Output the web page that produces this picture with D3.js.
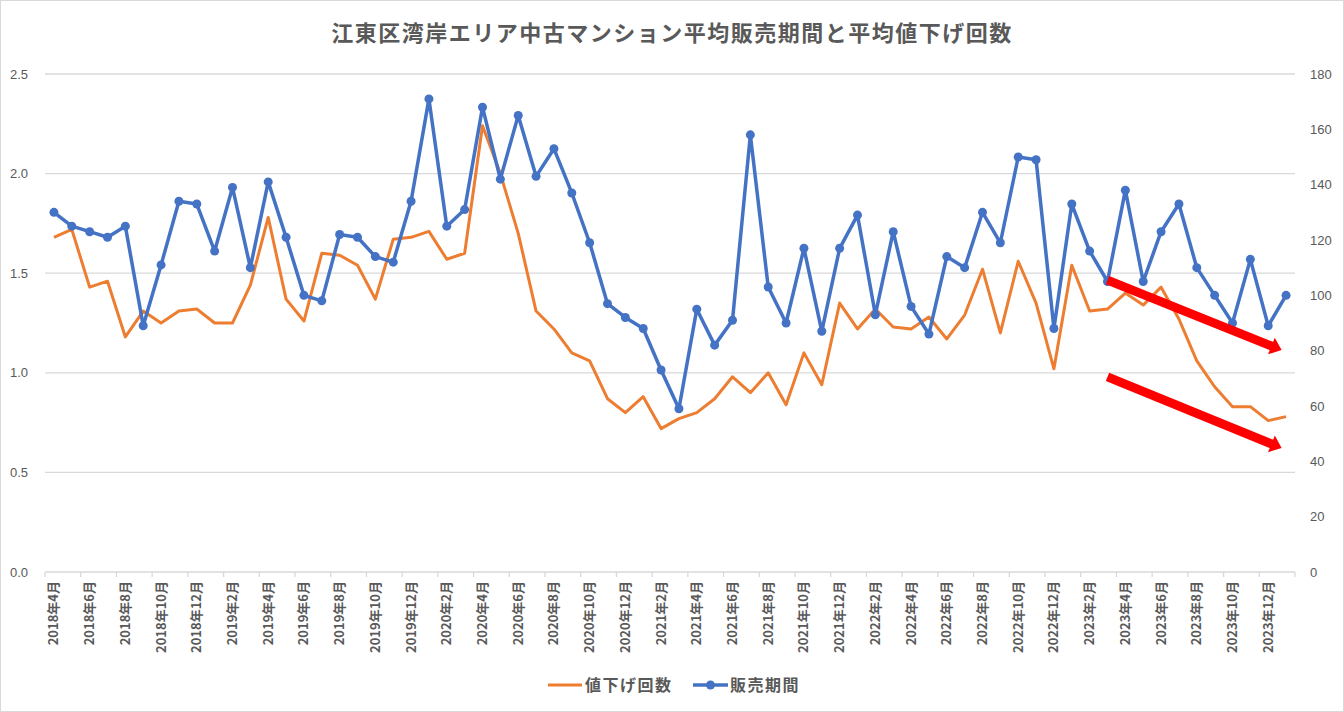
<!DOCTYPE html>
<html>
<head>
<meta charset="utf-8">
<script src="https://cdn.jsdelivr.net/npm/d3@7"></script>
<style>
  body { margin: 0; background: #fff; }
  svg { display: block; font-family: "Noto Sans CJK JP", "Noto Sans", sans-serif; }
</style>
</head>
<body>
<svg id="chart"></svg>
<script>
var width = 1344;
var height = 712;

// 2018年4月 〜 2024年1月 (月次)
var months = [
  "2018年4月", "2018年5月", "2018年6月", "2018年7月", "2018年8月", "2018年9月",
  "2018年10月", "2018年11月", "2018年12月",
  "2019年1月", "2019年2月", "2019年3月", "2019年4月", "2019年5月", "2019年6月",
  "2019年7月", "2019年8月", "2019年9月", "2019年10月", "2019年11月", "2019年12月",
  "2020年1月", "2020年2月", "2020年3月", "2020年4月", "2020年5月", "2020年6月",
  "2020年7月", "2020年8月", "2020年9月", "2020年10月", "2020年11月", "2020年12月",
  "2021年1月", "2021年2月", "2021年3月", "2021年4月", "2021年5月", "2021年6月",
  "2021年7月", "2021年8月", "2021年9月", "2021年10月", "2021年11月", "2021年12月",
  "2022年1月", "2022年2月", "2022年3月", "2022年4月", "2022年5月", "2022年6月",
  "2022年7月", "2022年8月", "2022年9月", "2022年10月", "2022年11月", "2022年12月",
  "2023年1月", "2023年2月", "2023年3月", "2023年4月", "2023年5月", "2023年6月",
  "2023年7月", "2023年8月", "2023年9月", "2023年10月", "2023年11月", "2023年12月",
  "2024年1月"
];

// 値下げ回数 (左軸)
var priceCuts = [
  1.68, 1.72, 1.43, 1.46, 1.18, 1.31, 1.25, 1.31, 1.32, 1.25,
  1.25, 1.44, 1.78, 1.37, 1.26, 1.60, 1.59, 1.54, 1.37, 1.67,
  1.68, 1.71, 1.57, 1.60, 2.24, 2.00, 1.70, 1.31, 1.22, 1.10,
  1.06, 0.87, 0.80, 0.88, 0.72, 0.77, 0.80, 0.87, 0.98, 0.90,
  1.00, 0.84, 1.10, 0.94, 1.35, 1.22, 1.32, 1.23, 1.22, 1.28,
  1.17, 1.29, 1.52, 1.20, 1.56, 1.35, 1.02, 1.54, 1.31, 1.32,
  1.40, 1.34, 1.43, 1.27, 1.06, 0.93, 0.83, 0.83, 0.76, 0.78
];

// 販売期間 (右軸, 日)
var salesDays = [
  130, 125, 123, 121, 125, 89, 111, 134, 133, 116,
  139, 110, 141, 121, 100, 98, 122, 121, 114, 112,
  134, 171, 125, 131, 168, 142, 165, 143, 153, 137,
  119, 97, 92, 88, 73, 59, 95, 82, 91, 158,
  103, 90, 117, 87, 117, 129, 93, 123, 96, 86,
  114, 110, 130, 119, 150, 149, 88, 133, 116, 105,
  138, 105, 123, 133, 110, 100, 90, 113, 89, 100
];

var leftTicks = [0, 0.5, 1.0, 1.5, 2.0, 2.5];
var rightTicks = [0, 20, 40, 60, 80, 100, 120, 140, 160, 180];

// 注釈の矢印 (月の位置と右軸の値)
var arrows = [
  { from: 59.0, to: 68.75, v0: 105.5, v1: 80.2 },
  { from: 59.0, to: 68.75, v0: 70.5, v1: 44.8 }
];

var margin = { top: 74, right: 49, bottom: 140, left: 45 };
var textColor = "#595959";
var gridColor = "#d9d9d9";
var orange = "#ED7D31";
var blue = "#4472C4";

var svg = d3.select("#chart")
    .attr("width", width)
    .attr("height", height);

svg.append("rect")
    .attr("x", 0.5).attr("y", 0.5)
    .attr("width", width - 1).attr("height", height - 1)
    .attr("fill", "#fff")
    .attr("stroke", "#d9d9d9");

var x = d3.scaleBand()
    .domain(months)
    .range([margin.left, width - margin.right]);

var yLeft = d3.scaleLinear()
    .domain([0, 2.5])
    .range([height - margin.bottom, margin.top]);

var yRight = d3.scaleLinear()
    .domain([0, 180])
    .range([height - margin.bottom, margin.top]);

var cx = (d, i) => x(months[i]) + x.bandwidth() / 2;

// グリッド線
svg.append("g")
    .selectAll("line")
    .data(leftTicks.slice(1))
    .join("line")
        .attr("x1", margin.left)
        .attr("x2", width - margin.right)
        .attr("y1", d => yLeft(d))
        .attr("y2", d => yLeft(d))
        .attr("stroke", gridColor)
        .attr("stroke-width", 1.3);

// 左軸
var axisLeft = svg.append("g")
    .attr("transform", `translate(${margin.left - 14},0)`)
    .call(d3.axisLeft(yLeft).tickValues(leftTicks).tickFormat(d3.format(".1f")).tickSize(0));
axisLeft.select(".domain").remove();
axisLeft.selectAll("text")
    .attr("fill", textColor)
    .style("font-size", "13px");

// 右軸
var axisRight = svg.append("g")
    .attr("transform", `translate(${width - margin.right + 12},0)`)
    .call(d3.axisRight(yRight).tickValues(rightTicks).tickSize(0));
axisRight.select(".domain").remove();
axisRight.selectAll("text")
    .attr("fill", textColor)
    .style("font-size", "13px");

// 横軸
var base = height - margin.bottom;
svg.append("line")
    .attr("x1", margin.left).attr("x2", width - margin.right)
    .attr("y1", base).attr("y2", base)
    .attr("stroke", gridColor)
    .attr("stroke-width", 1.3);

var tickMonths = months.filter((m, i) => i % 2 === 0);

svg.append("g")
    .selectAll("line")
    .data(tickMonths.concat([null]))
    .join("line")
        .attr("x1", d => d === null ? width - margin.right : x(d))
        .attr("x2", d => d === null ? width - margin.right : x(d))
        .attr("y1", base)
        .attr("y2", base + 5)
        .attr("stroke", gridColor)
        .attr("stroke-width", 1.3);

svg.append("g")
    .selectAll("text")
    .data(tickMonths)
    .join("text")
        .attr("transform", d => `translate(${x(d) + x.bandwidth() / 2 + 4.5},${base + 9}) rotate(-90)`)
        .attr("text-anchor", "end")
        .attr("fill", textColor)
        .style("font-size", "13px")
        .style("font-weight", "bold")
        .text(d => d);

// 値下げ回数
var lineLeft = d3.line()
    .x(cx)
    .y(d => yLeft(d));

svg.append("path")
    .datum(priceCuts)
    .attr("d", lineLeft)
    .attr("fill", "none")
    .attr("stroke", orange)
    .attr("stroke-width", 3)
    .attr("stroke-linejoin", "round");

// 販売期間
var lineRight = d3.line()
    .x(cx)
    .y(d => yRight(d));

svg.append("path")
    .datum(salesDays)
    .attr("d", lineRight)
    .attr("fill", "none")
    .attr("stroke", blue)
    .attr("stroke-width", 3.5)
    .attr("stroke-linejoin", "round");

svg.append("g")
    .selectAll("circle")
    .data(salesDays)
    .join("circle")
        .attr("cx", cx)
        .attr("cy", d => yRight(d))
        .attr("r", 4.5)
        .attr("fill", blue);

// 赤い矢印
var headLen = 11;
var headWide = 18;

var xAt = t => margin.left + (t + 0.5) * x.step();

var arrowG = svg.append("g")
    .selectAll("g")
    .data(arrows)
    .join("g");

arrowG.each(function(d) {
    var x0 = xAt(d.from), y0 = yRight(d.v0);
    var x1 = xAt(d.to), y1 = yRight(d.v1);
    var len = Math.hypot(x1 - x0, y1 - y0);
    var ux = (x1 - x0) / len, uy = (y1 - y0) / len;
    var bx = x1 - ux * headLen, by = y1 - uy * headLen;
    var g = d3.select(this);
    g.append("line")
        .attr("x1", x0).attr("y1", y0)
        .attr("x2", bx + ux).attr("y2", by + uy)
        .attr("stroke", "#ff0000")
        .attr("stroke-width", 9);
    g.append("path")
        .attr("d", `M${x1},${y1} L${bx - uy * headWide / 2},${by + ux * headWide / 2} L${bx + uy * headWide / 2},${by - ux * headWide / 2} Z`)
        .attr("fill", "#ff0000");
});

// タイトル
svg.append("text")
    .attr("x", width / 2)
    .attr("y", 41)
    .attr("text-anchor", "middle")
    .attr("fill", textColor)
    .style("font-size", "22px")
    .style("font-weight", "bold")
    .style("letter-spacing", "1.5px")
    .text("江東区湾岸エリア中古マンション平均販売期間と平均値下げ回数");

// 凡例
var legend = svg.append("g")
    .attr("transform", "translate(548,685)");

legend.append("line")
    .attr("x1", 0).attr("x2", 34)
    .attr("stroke", orange).attr("stroke-width", 3);
legend.append("text")
    .attr("x", 37).attr("dy", "0.35em")
    .attr("fill", textColor)
    .style("font-size", "16px")
    .style("font-weight", "bold")
    .style("letter-spacing", "1.5px")
    .text("値下げ回数");

legend.append("line")
    .attr("x1", 145).attr("x2", 180)
    .attr("stroke", blue).attr("stroke-width", 3.5);
legend.append("circle")
    .attr("cx", 162.5).attr("r", 4.5)
    .attr("fill", blue);
legend.append("text")
    .attr("x", 182).attr("dy", "0.35em")
    .attr("fill", textColor)
    .style("font-size", "16px")
    .style("font-weight", "bold")
    .style("letter-spacing", "1.5px")
    .text("販売期間");
</script>
</body>
</html>
